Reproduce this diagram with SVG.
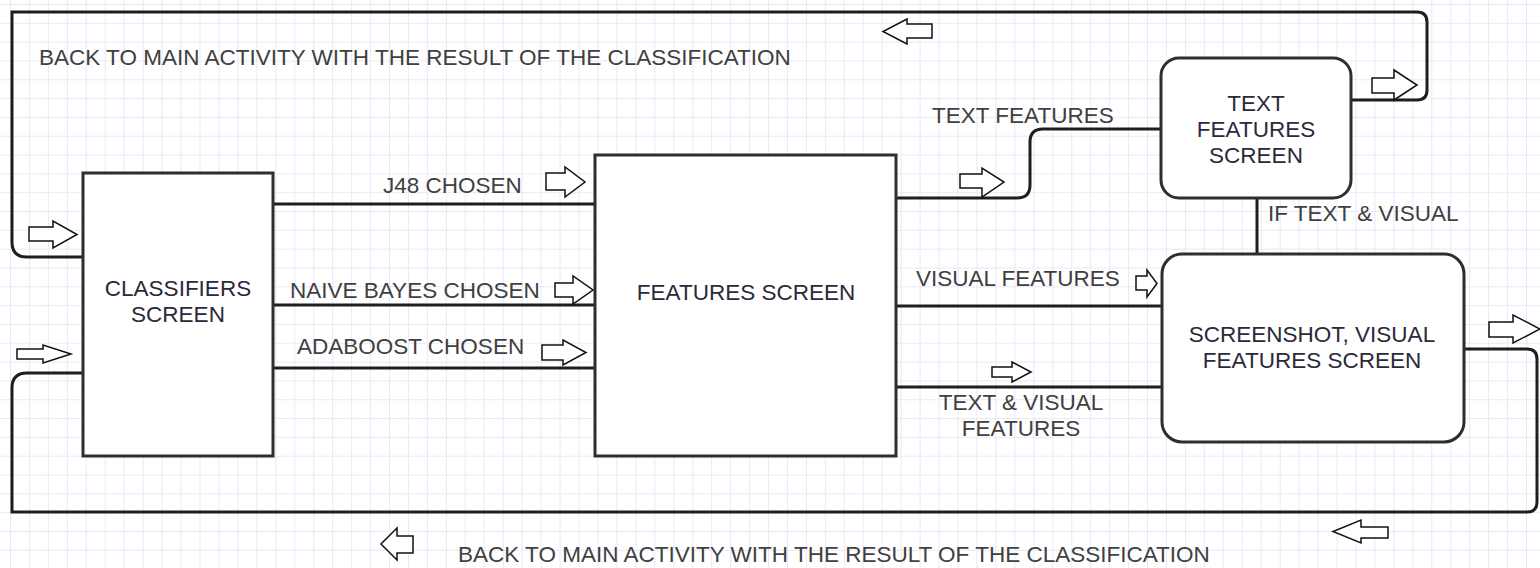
<svg xmlns="http://www.w3.org/2000/svg" width="1540" height="568" viewBox="0 0 1540 568">
<style>
.box{fill:#fff;stroke:#2e2e2e;stroke-width:3}
.ln{fill:none;stroke:#1e1e1e;stroke-width:3}
.ha{fill:#fff;stroke:#111;stroke-width:1.5;stroke-linejoin:miter}
.nt{font-family:"Liberation Sans",Arial,sans-serif;font-size:22.5px;fill:#2a2a3a;text-anchor:middle}
.et{font-family:"Liberation Sans",Arial,sans-serif;font-size:22.5px;fill:#404040}
</style>
<defs>
<pattern id="grid" patternUnits="userSpaceOnUse" x="10" y="4" width="18.95" height="18.82">
<path d="M0.5 0V18.82M0 0.5H18.95" fill="none" stroke="#e8e8fb" stroke-width="1"/>
</pattern>
</defs>
<rect width="1540" height="568" fill="#fff"/>
<rect width="1540" height="568" fill="url(#grid)"/>

<g id="connectors">
<!-- top return loop -->
<path class="ln" d="M1351 100H1417Q1427 100 1427 90V22Q1427 12 1417 12H12V242Q12 257 27 257H83"/>
<!-- bottom return loop -->
<path class="ln" d="M1464 349H1527Q1537 349 1537 359V502Q1537 512 1527 512H12V388Q12 373 27 373H83"/>
<!-- classifier to features -->
<path class="ln" d="M273 204H595"/>
<path class="ln" d="M273 305H595"/>
<path class="ln" d="M273 368H595"/>
<!-- features to text features -->
<path class="ln" d="M896 198H1017Q1030 198 1030 185V142Q1030 129 1043 129H1161"/>
<!-- features to screenshot -->
<path class="ln" d="M896 306H1162"/>
<path class="ln" d="M896 387H1162"/>
<!-- text features to screenshot -->
<path class="ln" d="M1257 198V254"/>

<!-- hollow arrows -->
<polygon class="ha" points="546,173 565,173 565,167 585,182 565,197 565,190 546,190"/>
<polygon class="ha" points="555,283 573,283 573,276 593,290 573,304 573,297 555,297"/>
<polygon class="ha" points="542,345 563,345 563,340 586,352.5 563,365 563,360 542,360"/>
<polygon class="ha" points="960,174 982,174 982,168 1004,182 982,197 982,188 960,188"/>
<polygon class="ha" points="1136,276 1147,276 1147,270 1157,283.5 1147,297 1147,290 1136,290"/>
<polygon class="ha" points="992,367 1012,367 1012,362 1031,372 1012,382 1012,377 992,377"/>
<polygon class="ha" points="29,227 53,227 53,221 77,234.5 53,248 53,241 29,241"/>
<polygon class="ha" points="17,349 43,349 43,345 71,354 43,363 43,359 17,359"/>
<polygon class="ha" points="1372,78 1394,78 1394,70 1417,85 1394,100 1394,93 1372,93"/>
<polygon class="ha" points="1489,322 1513,322 1513,315 1540,329 1513,343 1513,337 1489,337"/>
<polygon class="ha" points="932,24 907,24 907,19 883,31.5 907,44 907,38 932,38"/>
<polygon class="ha" points="1388,527 1361,527 1361,520 1333,531.5 1361,543 1361,538 1388,538"/>
<polygon class="ha" points="413,536 397,536 397,528 381,544 397,560 397,553 413,553"/>

<!-- connector labels -->
<text class="et" x="39" y="65">BACK TO MAIN ACTIVITY WITH THE RESULT OF THE CLASSIFICATION</text>
<text class="et" x="458" y="562">BACK TO MAIN ACTIVITY WITH THE RESULT OF THE CLASSIFICATION</text>
<text class="et" x="383" y="193">J48 CHOSEN</text>
<text class="et" x="290" y="298">NAIVE BAYES CHOSEN</text>
<text class="et" x="297" y="354">ADABOOST CHOSEN</text>
<text class="et" x="932" y="123">TEXT FEATURES</text>
<text class="et" x="916" y="286">VISUAL FEATURES</text>
<text class="et" x="1021" y="410" text-anchor="middle">TEXT &amp; VISUAL</text>
<text class="et" x="1021" y="436" text-anchor="middle">FEATURES</text>
<text class="et" x="1268" y="221">IF TEXT &amp; VISUAL</text>
</g>

<g id="classifiers-screen">
<rect class="box" x="83" y="173" width="190" height="283"/>
<text class="nt" x="178" y="296">CLASSIFIERS</text>
<text class="nt" x="178" y="322">SCREEN</text>
</g>

<g id="features-screen">
<rect class="box" x="595" y="155" width="301" height="301"/>
<text class="nt" x="746" y="300">FEATURES SCREEN</text>
</g>

<g id="text-features-screen">
<rect class="box" x="1161" y="58" width="190" height="140" rx="18" ry="18"/>
<text class="nt" x="1256" y="111">TEXT</text>
<text class="nt" x="1256" y="137">FEATURES</text>
<text class="nt" x="1256" y="163">SCREEN</text>
</g>

<g id="screenshot-visual-features-screen">
<rect class="box" x="1162" y="254" width="302" height="188" rx="20" ry="20"/>
<text class="nt" x="1312" y="342">SCREENSHOT, VISUAL</text>
<text class="nt" x="1312" y="368">FEATURES SCREEN</text>
</g>
</svg>
